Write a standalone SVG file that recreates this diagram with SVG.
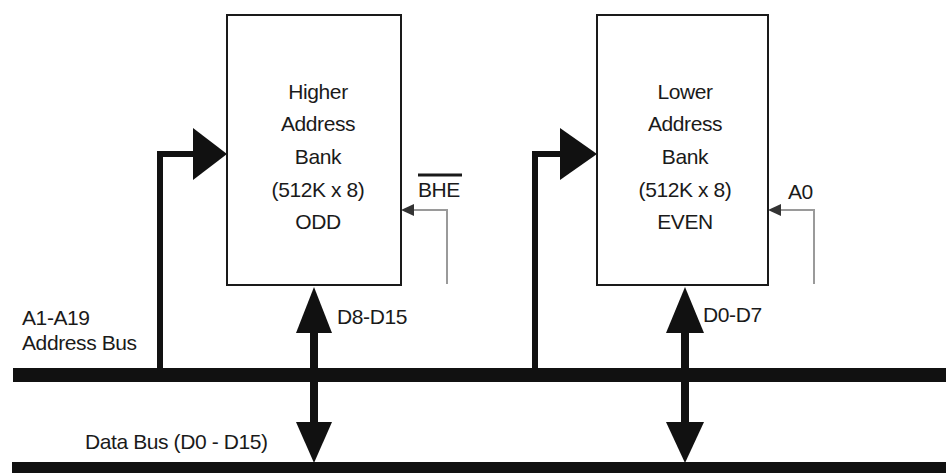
<svg xmlns="http://www.w3.org/2000/svg" width="946" height="473" viewBox="0 0 946 473">
<style>
  .box{fill:#fff;stroke:#1a1a1a;stroke-width:2}
  .t{font-family:"Liberation Sans",Arial,sans-serif;font-size:21px;fill:#1a1a1a;letter-spacing:-0.4px}
  .c{text-anchor:middle}
  .bus{stroke:#111;stroke-width:14;fill:none}
  .br{stroke:#111;stroke-width:6;fill:none}
  .dat{stroke:#111;stroke-width:8;fill:none}
  .ctl{stroke:#9a9a9a;stroke-width:2;fill:none}
  .ah{fill:#111}
</style>
<rect width="946" height="473" fill="#fff"/>
<g id="connectors">
  <line class="bus" x1="13" y1="375" x2="946" y2="375"/>
  <line class="bus" x1="12" y1="469" x2="946" y2="469"/>
  <polyline class="br" points="160,375 160,154 195,154"/>
  <polygon class="ah" points="193,128 227,154 193,180"/>
  <polyline class="br" points="535,375 535,154 562,154"/>
  <polygon class="ah" points="560,128 597,154 560,180"/>
  <line class="dat" x1="314" y1="330" x2="314" y2="425"/>
  <polygon class="ah" points="314,287 332,333 296,333"/>
  <polygon class="ah" points="296,422 332,422 314,463"/>
  <line class="dat" x1="685" y1="330" x2="685" y2="425"/>
  <polygon class="ah" points="685,287 704,333 666,333"/>
  <polygon class="ah" points="666,422 704,422 685,463"/>
  <polyline class="ctl" points="447,284 447,210 412,210"/>
  <polygon fill="#333" points="401,210 414,204 414,216"/>
  <polyline class="ctl" points="814,284 814,210 779,210"/>
  <polygon fill="#333" points="768,210 781,204 781,216"/>
</g>
<g id="higher-bank">
  <rect class="box" x="227" y="15" width="174" height="270"/>
  <text class="t c" x="318" y="99">Higher</text>
  <text class="t c" x="318" y="131">Address</text>
  <text class="t c" x="318" y="164">Bank</text>
  <text class="t c" x="318" y="197">(512K x 8)</text>
  <text class="t c" x="318" y="229">ODD</text>
</g>
<g id="lower-bank">
  <rect class="box" x="597" y="15" width="171" height="270"/>
  <text class="t c" x="685" y="99">Lower</text>
  <text class="t c" x="685" y="131">Address</text>
  <text class="t c" x="685" y="164">Bank</text>
  <text class="t c" x="685" y="197">(512K x 8)</text>
  <text class="t c" x="685" y="229">EVEN</text>
</g>
<g id="bhe-label">
  <text class="t" x="418" y="197">BHE</text>
  <line x1="418" y1="175" x2="462" y2="175" stroke="#1a1a1a" stroke-width="3"/>
</g>
<g id="a0-label">
  <text class="t" x="788" y="199">A0</text>
</g>
<g id="address-bus-label">
  <text class="t" x="22" y="325">A1-A19</text>
  <text class="t" x="22" y="350">Address Bus</text>
</g>
<g id="data-labels">
  <text class="t" x="337" y="324">D8-D15</text>
  <text class="t" x="703" y="322">D0-D7</text>
  <text class="t" x="85" y="449">Data Bus (D0 - D15)</text>
</g>
</svg>
